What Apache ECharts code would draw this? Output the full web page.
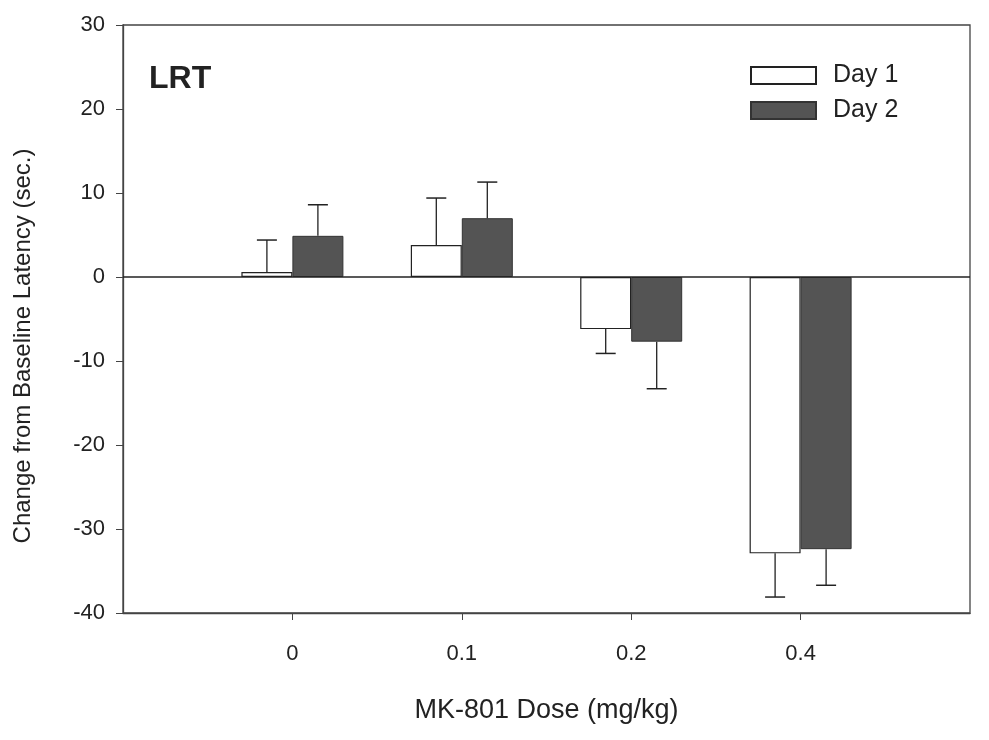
<!DOCTYPE html>
<html>
<head>
<meta charset="utf-8">
<script src="https://cdn.jsdelivr.net/npm/echarts@6/dist/echarts.min.js"></script>
<style>
  html, body { margin: 0; padding: 0; background: #fff; }
  #chart { width: 989px; height: 740px; }
</style>
</head>
<body>
<div id="chart"></div>
<script>
  // doses on the x axis (padded with an empty slot each side)
  const doses = ['0', '0.1', '0.2', '0.4']
  const day1 = [0.6, 3.8, -6.2, -32.9]
  const day2 = [4.9, 7.0, -7.7, -32.4]
  const day1Err = [3.8, 5.6, 2.9, 5.2]
  const day2Err = [3.7, 4.3, 5.6, 4.3]
  const yTicks = [-40, -30, -20, -10, 0, 10, 20, 30]

  const cats = [''].concat(doses, [''])
  const pad = arr => ['-'].concat(arr, ['-'])
  const font = 'Liberation Sans, Arial, sans-serif'
  const barW = 51

  function errData(vals, errs) {
    return vals.map((v, i) => [i + 1, v, errs[i]])
  }

  function errSeries(vals, errs, offset) {
    return {
      type: 'custom',
      silent: true,
      z: 3,
      data: errData(vals, errs),
      renderItem(params, api) {
        const v = api.value(1)
        const e = api.value(2)
        const dir = v >= 0 ? 1 : -1
        const p0 = api.coord([api.value(0), v])
        const p1 = api.coord([api.value(0), v + dir * e])
        const x = p0[0] + offset
        const cap = 10
        return {
          type: 'group',
          children: [
            { type: 'line', shape: { x1: x, y1: p0[1], x2: x, y2: p1[1] }, style: { stroke: '#222', lineWidth: 1.3 } },
            { type: 'line', shape: { x1: x - cap, y1: p1[1], x2: x + cap, y2: p1[1] }, style: { stroke: '#222', lineWidth: 1.5 } }
          ]
        }
      }
    }
  }

  const chart = echarts.init(document.getElementById('chart'))
  const options = {
    backgroundColor: '#fff',
    animation: false,
    title: {
      text: 'LRT',
      left: 149,
      top: 63,
      padding: 0,
      textStyle: { fontFamily: font, fontSize: 32, fontWeight: 'bold', color: '#222' }
    },
    legend: {
      orient: 'vertical',
      left: 750,
      top: 63,
      padding: 0,
      itemWidth: 65,
      itemHeight: 17,
      itemGap: 10,
      icon: 'rect',
      data: ['Day 1', 'Day 2'],
      textStyle: { fontFamily: font, fontSize: 25, lineHeight: 17, color: '#222', padding: [0, 0, 0, 12] }
    },
    grid: {
      left: 123,
      right: 19,
      top: 25,
      bottom: 127,
      show: true,
      borderColor: '#444',
      borderWidth: 1.3
    },
    xAxis: {
      type: 'category',
      data: cats,
      boundaryGap: false,
      name: 'MK-801 Dose (mg/kg)',
      nameLocation: 'middle',
      nameGap: 84,
      nameTextStyle: { fontFamily: font, fontSize: 27, color: '#222' },
      axisLine: { onZero: false, lineStyle: { color: '#444', width: 1.3 } },
      axisTick: {
        length: 7,
        interval: (idx) => idx > 0 && idx < cats.length - 1,
        lineStyle: { color: '#444' }
      },
      axisLabel: {
        interval: (idx) => idx > 0 && idx < cats.length - 1,
        margin: 30,
        fontFamily: font,
        fontSize: 22,
        color: '#222'
      },
      splitLine: { show: false }
    },
    yAxis: {
      type: 'value',
      min: yTicks[0],
      max: yTicks[yTicks.length - 1],
      interval: 10,
      name: 'Change from Baseline Latency (sec.)',
      nameLocation: 'middle',
      nameGap: 88,
      nameTextStyle: { fontFamily: font, fontSize: 24, color: '#222', padding: [0, 54, 0, 0] },
      axisLine: { show: true, lineStyle: { color: '#444', width: 1.3 } },
      axisTick: { show: true, length: 7, lineStyle: { color: '#444' } },
      axisLabel: { margin: 18, fontFamily: font, fontSize: 22, color: '#222' },
      splitLine: { show: false }
    },
    series: [
      {
        name: 'Day 1',
        type: 'bar',
        data: pad(day1),
        barWidth: barW,
        barGap: '0%',
        itemStyle: { color: '#fff', borderColor: '#222', borderWidth: 1.2 },
        markLine: {
          silent: true,
          symbol: 'none',
          label: { show: false },
          lineStyle: { color: '#222', width: 1.5, type: 'solid' },
          data: [{ yAxis: 0 }]
        }
      },
      {
        name: 'Day 2',
        type: 'bar',
        data: pad(day2),
        barWidth: barW,
        barGap: '0%',
        itemStyle: { color: '#545454', borderColor: '#333', borderWidth: 1 }
      },
      errSeries(day1, day1Err, -barW / 2),
      errSeries(day2, day2Err, barW / 2)
    ]
  }
  chart.setOption(options, true)
</script>
</body>
</html>
